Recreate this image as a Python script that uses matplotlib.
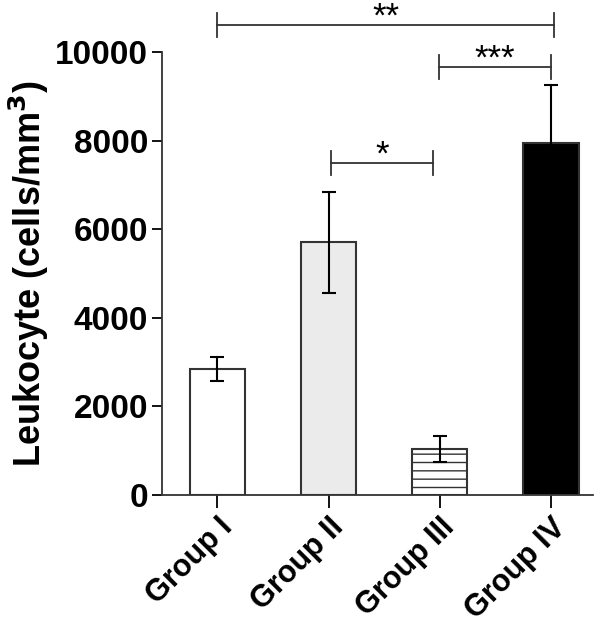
import matplotlib.pyplot as plt
import matplotlib.transforms as mtransforms
import numpy as np

plt.rcParams['font.family'] = ['Liberation Sans', 'DejaVu Sans']
plt.rcParams['font.weight'] = 'bold'
plt.rcParams['hatch.linewidth'] = 1.0

groups = ['Group I', 'Group II', 'Group III', 'Group IV']
means = [2850, 5700, 1040, 7950]
sds = [270, 1140, 290, 1300]
colors = ['white', '#ebebeb', 'white', 'black']
hatches = ['', '', '--', '']

# significance brackets: (left x, right x, height, label)
sig_pairs = [(0.0, 3.03, 10600, '**'), (1.99, 3.0, 9660, '***'), (1.02, 1.94, 7490, '*')]

fig = plt.figure(figsize=(6.02, 6.33), dpi=100)
ax = fig.add_axes([0.269, 0.218, 0.716, 0.700])

x = np.arange(len(groups))
bars = ax.bar(x, means, width=0.5, color=colors, edgecolor='#333333', linewidth=1.5, zorder=2)
for b, h in zip(bars, hatches):
    b.set_hatch(h)
ax.errorbar(x, means, yerr=sds, fmt='none', ecolor='black', elinewidth=1.5,
            capsize=5, capthick=1.5, zorder=3)

for i, j, h, lab in sig_pairs:
    ax.plot([i, j], [h, h], color='#333333', lw=1.3, clip_on=False)
    ax.plot([i, i], [h - 270, h + 270], color='#333333', lw=1.3, clip_on=False)
    ax.plot([j, j], [h - 270, h + 270], color='#333333', lw=1.3, clip_on=False)
    ax.annotate(lab, xy=((i + j) / 2, h), xytext=(0, -6), textcoords='offset points',
                ha='center', va='bottom', fontsize=25, fontweight='normal',
                annotation_clip=False)

ax.set_xlim(-0.5, 3.38)
ax.set_ylim(0, 10000)
ax.set_yticks([0, 2000, 4000, 6000, 8000, 10000])
ax.set_xticks(x)
ax.set_xticklabels(groups, rotation=45, ha='right', rotation_mode='anchor', fontsize=22)
shift = mtransforms.ScaledTranslation(6 / 72, -2 / 72, fig.dpi_scale_trans)
for t in ax.get_xticklabels():
    t.set_transform(t.get_transform() + shift)
ax.tick_params(axis='y', labelsize=24, width=1.3, length=7, pad=3)
ax.tick_params(axis='x', width=1.3, length=9)
ax.set_ylabel('Leukocyte (cells/mm$^\\mathbf{3}$)', fontsize=26, fontweight='bold', labelpad=3)
for s in ['top', 'right']:
    ax.spines[s].set_visible(False)
for s in ['left', 'bottom']:
    ax.spines[s].set_linewidth(1.3)
    ax.spines[s].set_color('#333333')

fig.savefig('out.png', dpi=100)
